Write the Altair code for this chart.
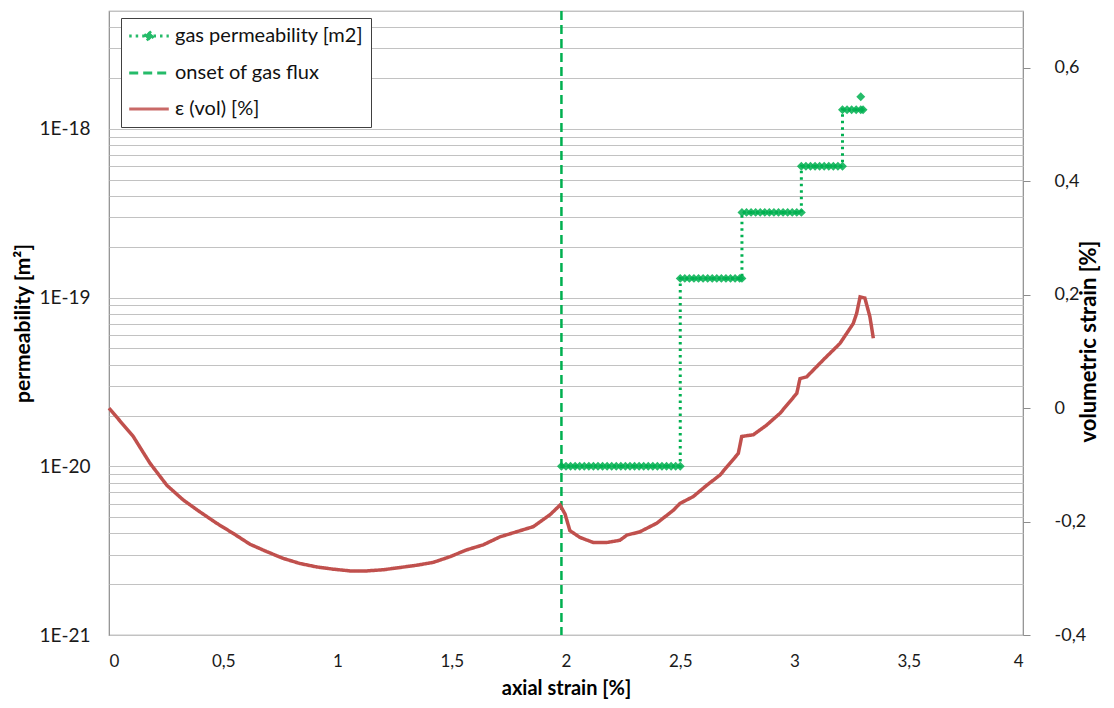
import altair as alt
import pandas as pd

GREEN = "#00B050"
RED = "#C0504D"
FONT = "Lato"

S_PERM = "gas permeability [m2]"
S_ONSET = "onset of gas flux"
S_VOL = "ε (vol) [%]"

# ---- gas permeability (steps, left log axis) ----
step1_x = [1.98, 2.00, 2.02, 2.04, 2.06, 2.08, 2.10, 2.12, 2.14, 2.16, 2.18, 2.20, 2.22,
           2.24, 2.26, 2.28, 2.30, 2.32, 2.34, 2.36, 2.38, 2.40, 2.42, 2.44, 2.46, 2.48, 2.50]
step2_x = [2.50, 2.52, 2.54, 2.56, 2.58, 2.60, 2.62, 2.64, 2.66, 2.68, 2.70, 2.72, 2.74, 2.76, 2.77]
step3_x = [2.77, 2.79, 2.81, 2.83, 2.85, 2.87, 2.89, 2.91, 2.93, 2.95, 2.97, 2.99, 3.01, 3.03]
step4_x = [3.03, 3.05, 3.07, 3.09, 3.11, 3.13, 3.15, 3.17, 3.19, 3.21]
step5_x = [3.21, 3.23, 3.25, 3.27, 3.29, 3.30]
step_levels = [1.0e-20, 1.3e-19, 3.2e-19, 6.0e-19, 1.3e-18]
last_x = 3.29
last_k = 1.55e-18

# ---- onset of gas flux ----
onset_x = 1.98

# ---- volumetric strain (right axis) ----
vol_x = [0.0, 0.106, 0.179, 0.253, 0.325, 0.398, 0.471, 0.544, 0.617, 0.690, 0.763, 0.836,
         0.909, 0.982, 1.055, 1.128, 1.200, 1.274, 1.347, 1.419, 1.492, 1.565, 1.638, 1.711,
         1.784, 1.857, 1.930, 1.974, 1.996, 2.017, 2.061, 2.120, 2.178, 2.236, 2.266, 2.324,
         2.397, 2.470, 2.499, 2.557, 2.616, 2.674, 2.718, 2.754, 2.769, 2.820, 2.878, 2.937,
         3.010, 3.024, 3.053, 3.126, 3.199, 3.257, 3.272, 3.287, 3.308, 3.330, 3.345]
vol_v = [0.0, -0.050, -0.097, -0.136, -0.162, -0.183, -0.203, -0.221, -0.240, -0.253, -0.265,
         -0.274, -0.280, -0.284, -0.287, -0.287, -0.285, -0.281, -0.277, -0.272, -0.262, -0.250,
         -0.241, -0.227, -0.218, -0.209, -0.188, -0.171, -0.187, -0.216, -0.228, -0.237, -0.237,
         -0.233, -0.224, -0.218, -0.203, -0.180, -0.168, -0.156, -0.136, -0.118, -0.097, -0.080,
         -0.050, -0.047, -0.030, -0.009, 0.026, 0.052, 0.055, 0.085, 0.114, 0.149, 0.167, 0.196,
         0.194, 0.161, 0.123]

# ---- axes ----
x_ticks = [0, 0.5, 1, 1.5, 2, 2.5, 3, 3.5, 4]
k_domain = [1e-21, 5e-18]
k_grid = [m * 10.0 ** e for e in range(-21, -17) for m in range(1, 10) if m * 10.0 ** e <= 5.0001e-18]
v_domain = [-0.4, 0.7]
v_ticks = [-0.4, -0.2, 0, 0.2, 0.4, 0.6]

# ---- tables ----
rows = []
idx = 0
for xs, lev in zip([step1_x, step2_x, step3_x, step4_x, step5_x], step_levels):
    for xv in xs:
        rows.append({"x": xv, "k": lev, "i": idx, "series": S_PERM, "line": True})
        idx += 1
rows.append({"x": last_x, "k": last_k, "i": idx, "series": S_PERM, "line": False})
perm_df = pd.DataFrame(rows)
onset_df = pd.DataFrame({"x": [onset_x], "series": [S_ONSET]})
vol_df = pd.DataFrame({"x": vol_x, "v": vol_v, "i": list(range(len(vol_x))), "series": S_VOL})

domain = [S_PERM, S_ONSET, S_VOL]
# legend symbols: line with diamond marker / plain lines (marker diamond = path unit 1)
SYM_PERM = "M-4.4,0L-1,0M1,0L4.4,0M-1,0L0,-1L1,0L0,1Z"
SYM_LINE = "M-4.4,0L4.4,0"

legend = alt.Legend(
    title=None, orient="none", legendX=12, legendY=7,
    fillColor="white", strokeColor="#404040", padding=8, cornerRadius=0,
    symbolType="stroke", symbolSize=81, symbolStrokeWidth=3, symbolOffset=10,
    symbolFillColor="#9BDDB7",
    labelFont=FONT, labelFontSize=20, labelColor="#111111", labelOffset=16,
    rowPadding=16, labelLimit=400,
)
color = alt.Color("series:N", scale=alt.Scale(domain=domain, range=[GREEN, GREEN, RED]), legend=legend)
dash = alt.StrokeDash("series:N", scale=alt.Scale(domain=domain, range=[[2.5, 4], [9, 5], [1, 0]]), legend=legend)
shape = alt.Shape("series:N", scale=alt.Scale(domain=domain, range=[SYM_PERM, SYM_LINE, SYM_LINE]), legend=legend)

x_enc = alt.X("x:Q", scale=alt.Scale(domain=[0, 4], nice=False, zero=False),
              axis=alt.Axis(values=x_ticks, format="~g", title="axial strain [%]",
                            labelExpr="replace(datum.label, '.', ',')",
                            grid=False, ticks=False, tickSize=0, domain=False,
                            labelPadding=18, titlePadding=9, labelFontSize=17,
                            titleFontSize=20))

k_axis = alt.Axis(values=k_grid, title="permeability [m²]", grid=True, gridColor="#C2C2C2",
                  gridWidth=1, ticks=False, tickSize=0, domain=False, labelPadding=19,
                  titlePadding=5, labelFontSize=19, titleFontSize=21,
                  labelExpr="abs(log(datum.value)/LN10 - round(log(datum.value)/LN10)) < 0.01 ? '1E' + round(log(datum.value)/LN10) : ''")
y_k = alt.Y("k:Q", scale=alt.Scale(type="log", domain=k_domain, nice=False), axis=k_axis)

perm_line = alt.Chart(perm_df).transform_filter("datum.line").mark_line(strokeWidth=3).encode(
    x=x_enc, y=y_k, color=color, strokeDash=dash, order="i:Q")
perm_pts = alt.Chart(perm_df).mark_point(filled=True, size=80, opacity=0.85, strokeWidth=0).encode(
    x=x_enc, y=y_k, color=color, shape=shape)
left = alt.layer(perm_line, perm_pts)

onset = alt.Chart(onset_df).mark_rule(strokeWidth=2.5).encode(x=x_enc, color=color, strokeDash=dash)

v_axis = alt.Axis(orient="right", values=v_ticks, format="~g", title="volumetric strain [%]",
                  labelExpr="replace(replace(datum.label, '.', ','), '−', '-')",
                  grid=False, ticks=True, tickSize=7, tickColor="#8C8C8C", domain=False,
                  labelPadding=24, titlePadding=15, titleAngle=270, titleY=330,
                  labelFontSize=18, titleFontSize=22)
vol = alt.Chart(vol_df).mark_line(strokeWidth=3.5).encode(
    x=x_enc,
    y=alt.Y("v:Q", scale=alt.Scale(domain=v_domain, nice=False, zero=False), axis=v_axis),
    color=color, strokeDash=dash, order="i:Q")

chart = alt.layer(left, onset, vol).resolve_scale(y="independent").properties(
    width=914, height=624,
    autosize=alt.AutoSizeParams(type="none"),
    padding={"left": 101, "top": 3, "right": 83, "bottom": 65},
).configure_view(stroke="#8C8C8C", strokeWidth=1.2).configure_axis(
    labelFont=FONT, labelColor="#1A1A1A", titleFont=FONT,
    titleFontWeight="bold", titleColor="#000000",
)

chart.save("out.html", embed_options={"renderer": "svg", "actions": False})
